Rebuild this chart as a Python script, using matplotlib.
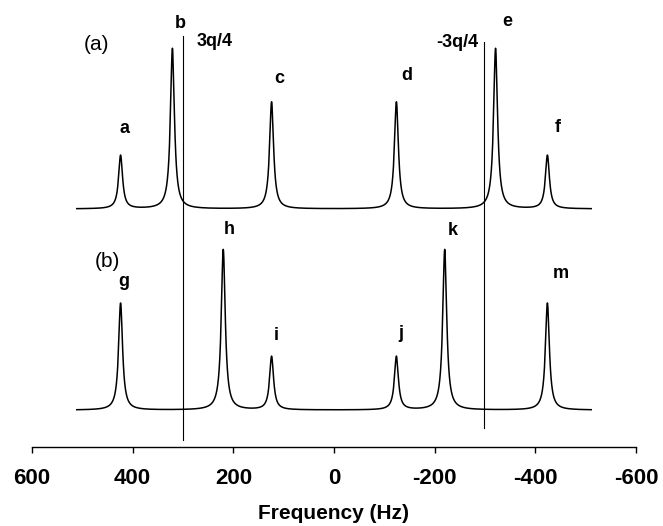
import numpy as np
import matplotlib.pyplot as plt

plt.rcParams['font.family'] = ['Liberation Sans', 'DejaVu Sans']

# peak positions (Hz) and relative intensities of the two spectra
freq_a = [424, 321, 124, -124, -321, -424]
amp_a = [1, 3, 2, 2, 3, 1]
labels_a = ['a', 'b', 'c', 'd', 'e', 'f']

freq_b = [424, 220, 124, -124, -220, -424]
amp_b = [2, 3, 1, 1, 3, 2]
labels_b = ['g', 'h', 'i', 'j', 'k', 'm']

fwhm = 9.5          # line width, Hz
f_lo, f_hi = -511, 511
offset_a = 4.45     # vertical offset of trace (a)
offset_b = 0.69     # vertical offset of trace (b)

# 3q/4 marker lines
q_lines = [300, -299]
q_labels = ['3q/4', '-3q/4']

# label anchor points (x in Hz, y in intensity units, baseline)
lab_a_pos = [(417, 5.86), (306, 7.84), (109, 6.80), (-145, 6.86), (-344, 7.86), (-445, 5.89)]
lab_b_pos = [(417, 3.00), (209, 3.99), (115, 2.00), (-133, 2.03), (-236, 3.96), (-451, 3.15)]


def lorentz_sum(f, centers, amps, w):
    g = (w / 2.0) ** 2
    out = np.zeros_like(f)
    for c, a in zip(centers, amps):
        out += a * g / ((f - c) ** 2 + g)
    return out


f = np.linspace(f_lo, f_hi, 6000)
spec_a = lorentz_sum(f, freq_a, amp_a, fwhm)
spec_b = lorentz_sum(f, freq_b, amp_b, fwhm)

fig = plt.figure(figsize=(6.63, 5.26), dpi=100)
ax = fig.add_axes([32 / 663, 79 / 526, 604 / 663, 447 / 526])

ax.plot(f, spec_a + offset_a, color='black', lw=1.1)
ax.plot(f, spec_b + offset_b, color='black', lw=1.1)

ax.plot([q_lines[0], q_lines[0]], [0.13, 7.68], color='black', lw=0.8)
ax.plot([q_lines[1], q_lines[1]], [0.355, 7.57], color='black', lw=0.8)

for (x, y), s in zip(lab_a_pos, labels_a):
    ax.text(x, y, s, ha='center', va='baseline', fontsize=13, fontweight='bold')
for (x, y), s in zip(lab_b_pos, labels_b):
    ax.text(x, y, s, ha='center', va='baseline', fontsize=13, fontweight='bold')

ax.text(237, 7.50, q_labels[0], ha='center', va='baseline', fontsize=13, fontweight='bold')
ax.text(-245, 7.48, q_labels[1], ha='center', va='baseline', fontsize=13, fontweight='bold')

ax.text(471, 7.42, '(a)', ha='center', va='baseline', fontsize=15)
ax.text(450, 3.36, '(b)', ha='center', va='baseline', fontsize=15)

ax.set_xlim(600, -600)
ax.set_ylim(0, 447 / 53.5)
ax.set_xticks([600, 400, 200, 0, -200, -400, -600])
ax.set_xticklabels(['600', '400', '200', '0', '-200', '-400', '-600'],
                   fontsize=16, fontweight='bold')
ax.tick_params(axis='x', direction='out', length=4.5, width=1.0, pad=10.5)
ax.set_yticks([])
for side in ['top', 'right', 'left']:
    ax.spines[side].set_visible(False)
ax.spines['bottom'].set_linewidth(1.0)
ax.set_xlabel('Frequency (Hz)', fontsize=15, fontweight='bold', labelpad=11)

fig.savefig('out.png', dpi=100)
